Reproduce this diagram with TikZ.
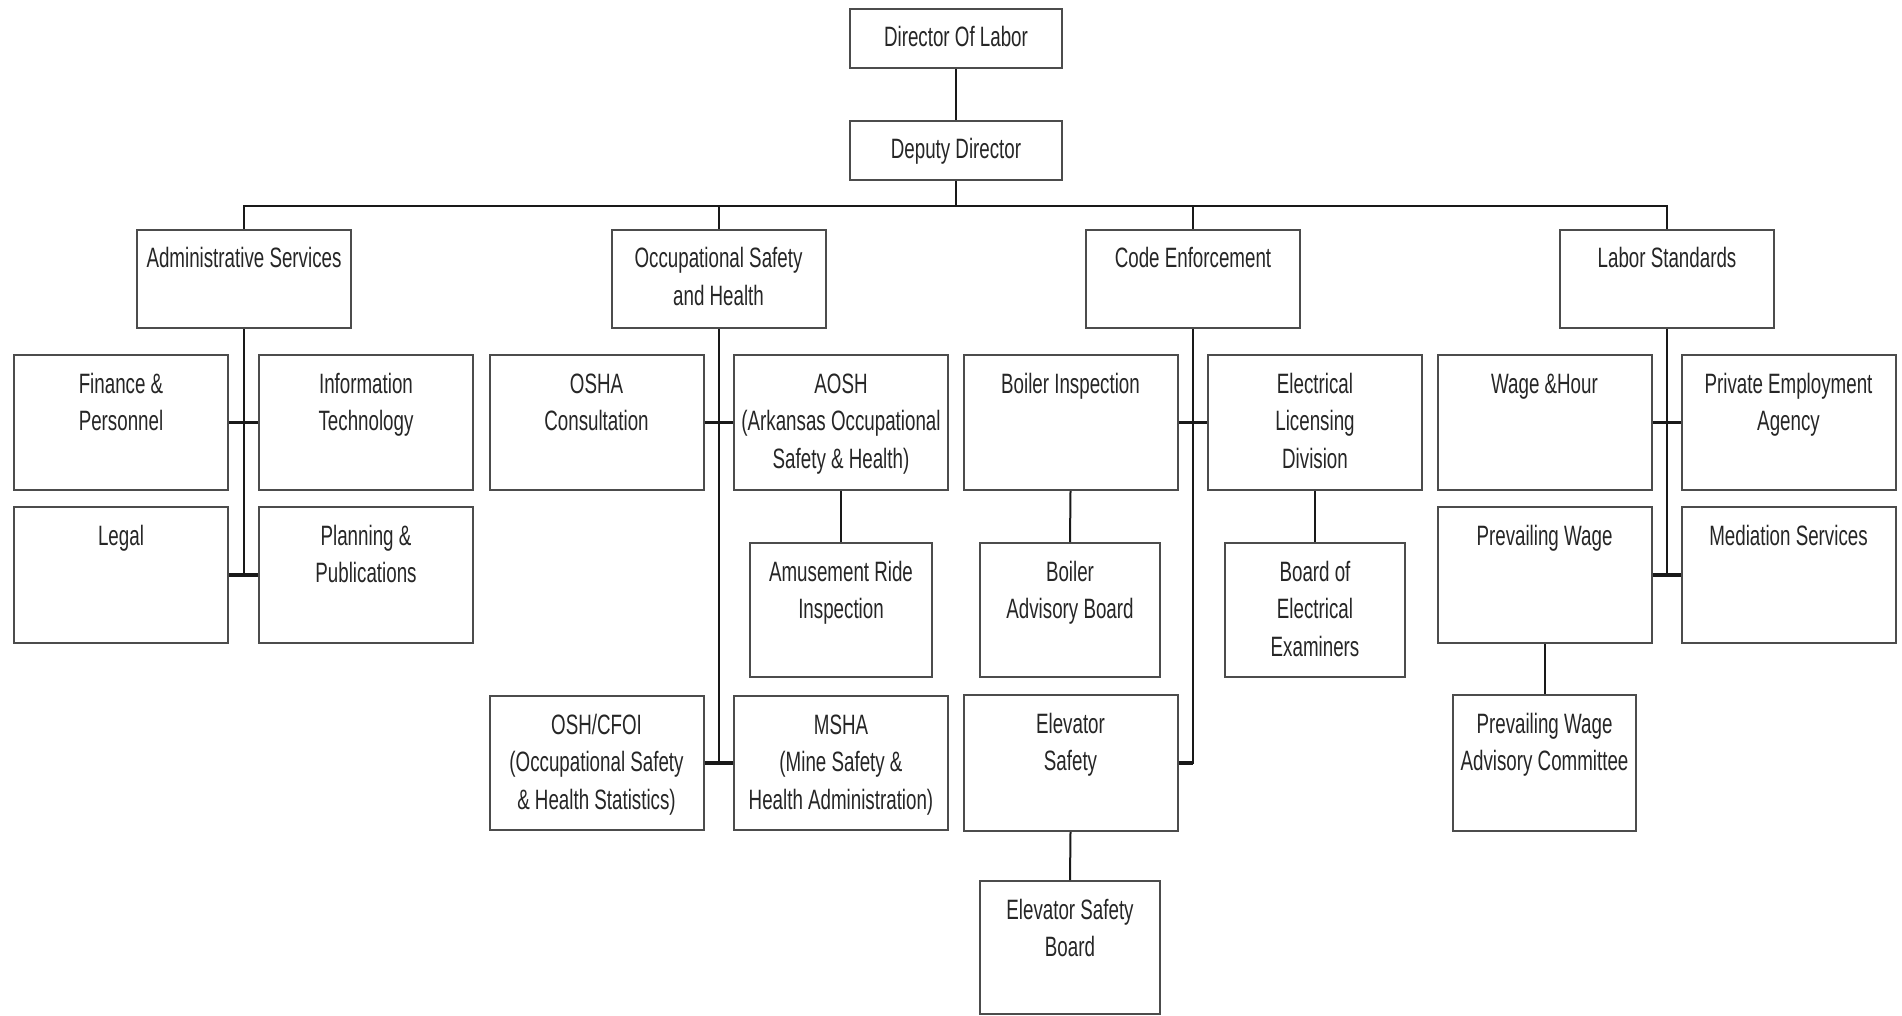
\documentclass[tikz,border=0pt]{standalone}
\usepackage{fontspec}
\newfontfamily\orgfont[FakeStretch=0.67]{Liberation Sans}
\begin{document}
\begin{tikzpicture}[x=1pt,y=-1pt,
  box/.style={rectangle,draw=black!70,line width=2pt,fill=white,inner sep=0pt},
  txt/.style={anchor=base,inner sep=0pt,text=black!85,
    font=\orgfont\fontsize{28}{37.5}\selectfont},
  link/.style={draw=black!90,line width=2pt},
  stub/.style={draw=black!90,line width=3.5pt}]
% unit box with its label set near the top edge
\newcommand\orgnode[6]{%
  \node[box,minimum width=#4pt,minimum height=#5pt] (#1) at (#2,#3) {};
  \node[txt] (#1-t) at ([yshift=-39pt]#1.north)
    {\begin{tabular}[t]{@{}c@{}}#6\end{tabular}};}
\fill[white] (0,0) rectangle (1902,1016);
\useasboundingbox (0,0) rectangle (1902,1016);

% leadership
\orgnode{director}{956}{38.5}{212}{59}{Director Of Labor}
\orgnode{deputy}{956}{150.5}{212}{59}{Deputy Director}

% divisions
\orgnode{admin}{244}{279}{214}{98}{Administrative Services}
\orgnode{osh}{718.5}{279}{214}{98}{Occupational Safety\\and Health}
\orgnode{code}{1193}{279}{214}{98}{Code Enforcement}
\orgnode{labor}{1667}{279}{214}{98}{Labor Standards}

% sections, first row
\orgnode{fin}{121}{422.5}{214}{135}{Finance \&\\Personnel}
\orgnode{it}{366}{422.5}{214}{135}{Information\\Technology}
\orgnode{oshac}{596.5}{422.5}{214}{135}{OSHA\\Consultation}
\orgnode{aosh}{841}{422.5}{214}{135}{AOSH\\(Arkansas Occupational\\Safety \& Health)}
\orgnode{boiler}{1070.5}{422.5}{214}{135}{Boiler Inspection}
\orgnode{elec}{1315}{422.5}{214}{135}{Electrical\\Licensing\\Division}
\orgnode{wage}{1544.5}{422.5}{214}{135}{Wage \&Hour}
\orgnode{pea}{1788.5}{422.5}{214}{135}{Private Employment\\Agency}

% sections, second row
\orgnode{legal}{121}{575}{214}{136}{Legal}
\orgnode{plan}{366}{575}{214}{136}{Planning \&\\Publications}
\orgnode{prevw}{1544.5}{575}{214}{136}{Prevailing Wage}
\orgnode{med}{1788.5}{575}{214}{136}{Mediation Services}

% boards and sub-units
\orgnode{amuse}{841}{610}{182}{134}{Amusement Ride\\Inspection}
\orgnode{bab}{1070}{610}{180}{134}{Boiler\\Advisory Board}
\orgnode{bee}{1315}{610}{180}{134}{Board of\\Electrical\\Examiners}
\orgnode{cfoi}{596.5}{763}{214}{134}{OSH/CFOI\\(Occupational Safety\\\& Health Statistics)}
\orgnode{msha}{841}{763}{214}{134}{MSHA\\(Mine Safety \&\\Health Administration)}
\orgnode{elev}{1070.5}{763}{214}{136}{Elevator\\Safety}
\orgnode{pwac}{1544.5}{763}{183}{136}{Prevailing Wage\\Advisory Committee}
\orgnode{esb}{1070}{947.5}{180}{133}{Elevator Safety\\Board}

% top of the chart
\coordinate (bus) at (956,206);
\draw[link] (director.south) -- (deputy.north);
\draw[link] (deputy.south) -- (bus);
\draw[link] (admin.north) |- (bus) -| (labor.north);
\draw[link] (osh.north) -- (osh.north |- bus);
\draw[link] (code.north) -- (code.north |- bus);

% Administrative Services
\draw[link] (admin.south) -- (admin.south |- legal.east);
\draw[stub] (fin.east) -- (it.west);
\draw[stub] (legal.east) -- (plan.west);

% Occupational Safety and Health
\draw[link] (osh.south) -- (osh.south |- cfoi.east);
\draw[stub] (oshac.east) -- (aosh.west);
\draw[stub] (cfoi.east) -- (msha.west);
\draw[link] (aosh.south) -- (amuse.north);

% Code Enforcement
\draw[link] (code.south) |- (elev.east);
\draw[stub] (boiler.east) -- (elec.west);
\draw[stub] (elev.east) -- (elev.east -| code.south);
\draw[link] (boiler.south) -- (bab.north);
\draw[link] (elec.south) -- (bee.north);
\draw[link] (elev.south) -- (esb.north);

% Labor Standards
\draw[link] (labor.south) -- (labor.south |- prevw.east);
\draw[stub] (wage.east) -- (pea.west);
\draw[stub] (prevw.east) -- (med.west);
\draw[link] (prevw.south) -- (pwac.north);
\end{tikzpicture}
\end{document}
